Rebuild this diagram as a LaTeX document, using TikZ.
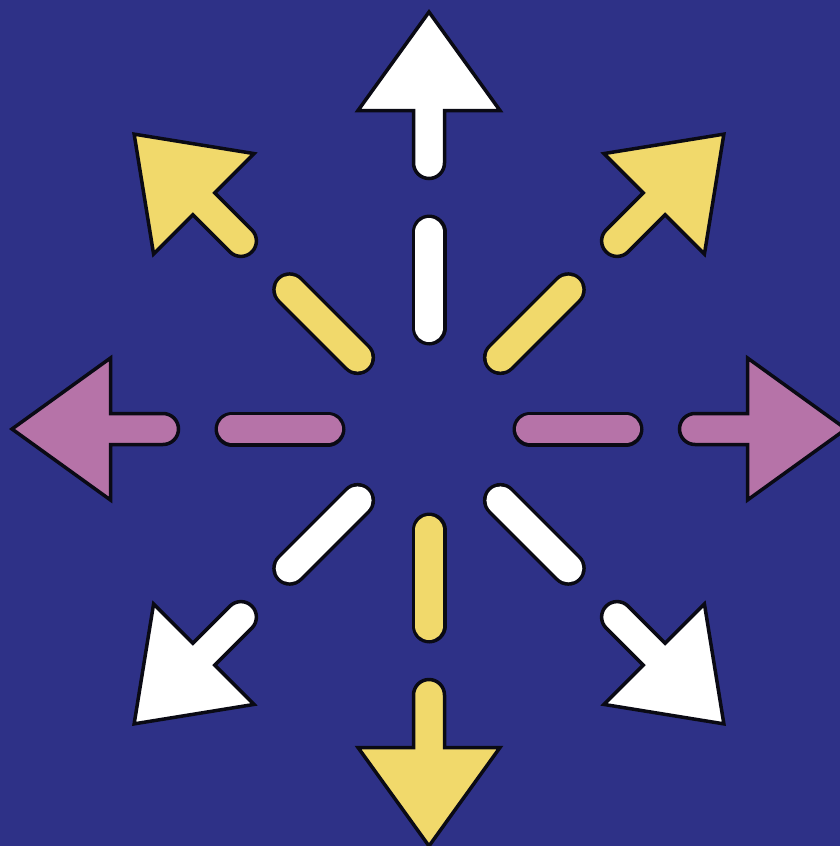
\documentclass[tikz,border=0pt]{standalone}
\definecolor{bgblue}{HTML}{2E3187}
\definecolor{ayellow}{HTML}{F1D96B}
\definecolor{apink}{HTML}{B673A8}
\definecolor{awhite}{HTML}{FFFFFF}
\definecolor{aline}{HTML}{0A0A14}
\tikzset{
  dashout/.style={line width=35pt, draw=aline, line cap=round},
  dashin/.style={line width=28pt, line cap=round},
  headshape/.style={draw=aline, line width=3.5pt, line join=miter},
}
\newcommand{\raydir}[2]{%
  \begin{scope}[shift={(429,429)}, rotate=#1]
    \draw[dashout] (101,0) -- (197,0);
    \draw[dashin, draw=#2] (101,0) -- (197,0);
    \path[headshape, fill=#2] (318.5,-15.5) -- (318.5,-71) -- (417,0) -- (318.5,71) -- (318.5,15.5) -- (266,15.5) arc[start angle=90, end angle=270, radius=15.5] -- cycle;
  \end{scope}}
\begin{document}
\begin{tikzpicture}[x=1pt,y=-1pt]
  \fill[bgblue] (0,0) rectangle (840,846);
  \useasboundingbox (0,0) rectangle (840,846);
  \raydir{90}{awhite}
  \raydir{45}{ayellow}
  \raydir{0}{apink}
  \raydir{-45}{awhite}
  \raydir{-90}{ayellow}
  \raydir{-135}{awhite}
  \raydir{180}{apink}
  \raydir{135}{ayellow}
\end{tikzpicture}
\end{document}
